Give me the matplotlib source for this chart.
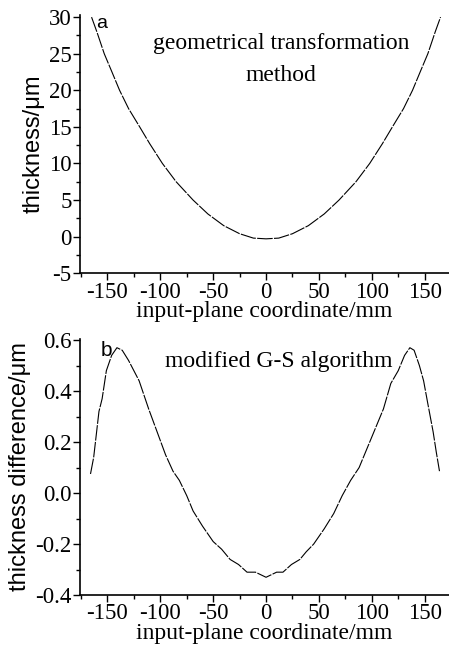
import matplotlib.pyplot as plt
from matplotlib.ticker import MultipleLocator

plt.rcParams['font.family'] = ['Liberation Serif', 'DejaVu Serif']
plt.rcParams['axes.unicode_minus'] = False

# panel a: thickness from geometrical transformation method
xa = [-165, -160, -153, -146, -138.5, -130, -119.5, -110, -98, -85, -69, -55,
      -40, -25, -12, 0, 12, 25, 40, 55, 69, 85, 98, 110, 119.5, 130, 138.5,
      146, 153, 160, 165]
ya = [30, 28, 25, 22.6, 20, 17.5, 15, 12.7, 10, 7.5, 5, 3.1, 1.5, 0.4, -0.2,
      -0.3, -0.2, 0.4, 1.5, 3.1, 5, 7.5, 10, 12.7, 15, 17.5, 20, 22.6, 25,
      28, 30]

# panel b: thickness difference, modified G-S algorithm
xb = [-166, -163, -158, -155, -151, -146, -141, -136, -130, -120, -111, -103,
      -95, -88, -82, -75, -69, -60, -50, -42, -34, -26, -18, -10, -5, 0,
      5, 10, 16, 24, 32, 38, 45, 55, 64, 72, 80, 88, 96, 104, 111, 118, 125,
      131, 136, 140, 145, 149, 153, 158, 161, 164]
yb = [0.075, 0.14, 0.32, 0.37, 0.48, 0.54, 0.57, 0.56, 0.52, 0.44, 0.33, 0.24,
      0.15, 0.086, 0.05, -0.01, -0.07, -0.13, -0.19, -0.22, -0.26, -0.28, -0.31,
      -0.31, -0.32, -0.33, -0.32, -0.31, -0.31, -0.28, -0.26, -0.23, -0.20,
      -0.14, -0.08, -0.01, 0.05, 0.1, 0.18, 0.26, 0.33, 0.43, 0.48, 0.54, 0.57,
      0.56, 0.5, 0.44, 0.35, 0.24, 0.16, 0.086]

xticks = [-150, -100, -50, 0, 50, 100, 150]
sans = ['Liberation Sans', 'DejaVu Sans']

fig = plt.figure(figsize=(4.49, 6.49), dpi=100)
ax1 = fig.add_axes([0.178, 0.579, 0.822, 0.398])
ax2 = fig.add_axes([0.178, 0.083, 0.822, 0.395])

for ax in (ax1, ax2):
    for s in ('top', 'right'):
        ax.spines[s].set_visible(False)
    ax.spines['left'].set_linewidth(1.2)
    ax.spines['bottom'].set_linewidth(1.2)
    ax.set_xlim(-176, 173)
    ax.set_xticks(xticks)
    ax.set_xticklabels([str(t) for t in xticks])
    ax.xaxis.set_minor_locator(MultipleLocator(25))
    ax.tick_params(which='major', direction='out', length=5, width=1,
                   labelsize=16.5, pad=1)
    ax.tick_params(which='minor', direction='out', length=3, width=1)
    ax.set_xlabel('input-plane coordinate/mm', fontsize=17, labelpad=-1)

ax1.plot(xa, ya, color='black', lw=0.8, ls=(0, (14, 1.2)))
ax1.set_ylim(-5, 30.3)
ax1.set_yticks([-5, 0, 5, 10, 15, 20, 25, 30])
ax1.yaxis.set_minor_locator(MultipleLocator(2.5))
ax1.set_ylabel('thickness/μm', fontsize=17, labelpad=3, family=sans)
ax1.text(0.045, 1.0, 'a', transform=ax1.transAxes, fontsize=14,
         ha='left', va='top', family=sans)
ax1.text(0.545, 0.89, 'geometrical transformation', transform=ax1.transAxes,
         fontsize=17, ha='center', va='center')
ax1.text(0.545, 0.765, 'method', transform=ax1.transAxes, fontsize=17,
         ha='center', va='center')

ax2.plot(xb, yb, color='black', lw=0.8, ls=(0, (14, 1.2)))
ax2.set_ylim(-0.4, 0.605)
ax2.set_yticks([-0.4, -0.2, 0.0, 0.2, 0.4, 0.6])
ax2.set_yticklabels(['-0.4', '-0.2', '0.0', '0.2', '0.4', '0.6'])
ax2.yaxis.set_minor_locator(MultipleLocator(0.1))
ax2.set_ylabel('thickness difference/μm', fontsize=17, labelpad=3, family=sans)
ax2.text(0.055, 0.99, 'b', transform=ax2.transAxes, fontsize=15,
         ha='left', va='top', family=sans)
ax2.text(0.54, 0.91, 'modified G-S algorithm', transform=ax2.transAxes,
         fontsize=17, ha='center', va='center')

fig.savefig('out.png', dpi=100)
